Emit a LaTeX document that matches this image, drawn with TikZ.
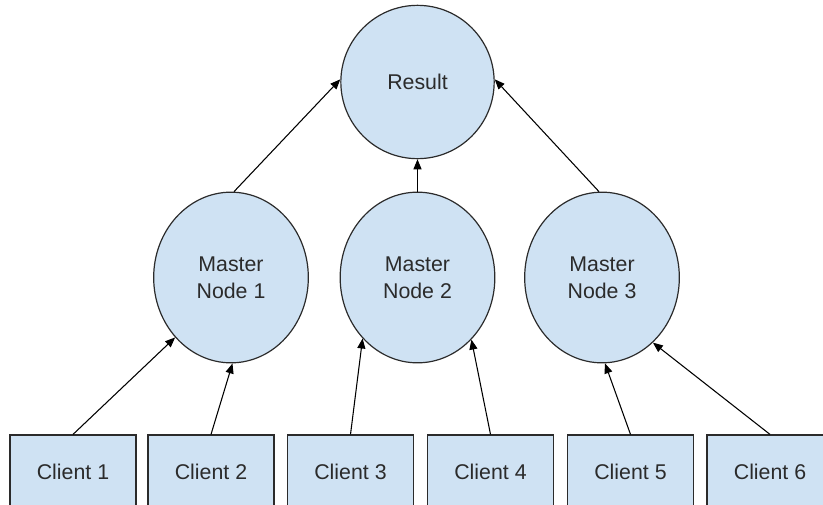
\documentclass[tikz,border=0pt]{standalone}
\usepackage{fontspec}
\setmainfont{Liberation Sans}
\usetikzlibrary{shapes.geometric,arrows.meta}
\definecolor{paleblue}{HTML}{CFE2F3}
\definecolor{inkgray}{HTML}{2B2B2B}
\begin{document}
\begin{tikzpicture}[x=0.75pt,y=-0.75pt,
  base/.style={draw=inkgray,fill=paleblue,line width=0.9pt,text=inkgray,
    font=\fontsize{16}{20}\selectfont,align=center,inner sep=0pt},
  roundnode/.style={base,circle,minimum size=115pt},
  masternode/.style={base,ellipse,minimum width=116pt,minimum height=128pt},
  clientbox/.style={base,rectangle,minimum width=94.5pt,minimum height=55.5pt},
  link/.style={draw=black,line width=0.8pt,-{Triangle[length=7.5pt,width=6pt]}}]
\useasboundingbox (0,0) rectangle (823,504);

% top result node
\node[roundnode] (res) at (417.5,82) {Result};

% master nodes
\node[masternode] (m1) at (231,277.5) {Master\\Node 1};
\node[masternode] (m2) at (417.5,277.5) {Master\\Node 2};
\node[masternode] (m3) at (602,277.5) {Master\\Node 3};

% client boxes along the bottom
\node[clientbox] (c1) at (73,472) {Client 1};
\node[clientbox] (c2) at (211,472) {Client 2};
\node[clientbox] (c3) at (350.5,472) {Client 3};
\node[clientbox] (c4) at (490.5,472) {Client 4};
\node[clientbox] (c5) at (630.5,472) {Client 5};
\node[clientbox] (c6) at (770,472) {Client 6};

% masters report to the result
\draw[link] (m1.88) -- (res.178);
\draw[link] (m2.north) -- (res.south);
\draw[link] (m3.92) -- (res.2);

% clients report to their masters
\draw[link] (c1.north) -- (m1.227);
\draw[link] (c2.north) -- (m1.271);
\draw[link] (c3.north) -- (m2.228);
\draw[link] (c4.north) -- (m2.311);
\draw[link] (c5.north) -- (m3.272);
\draw[link] (c6.north) -- (m3.308);
\end{tikzpicture}
\end{document}
